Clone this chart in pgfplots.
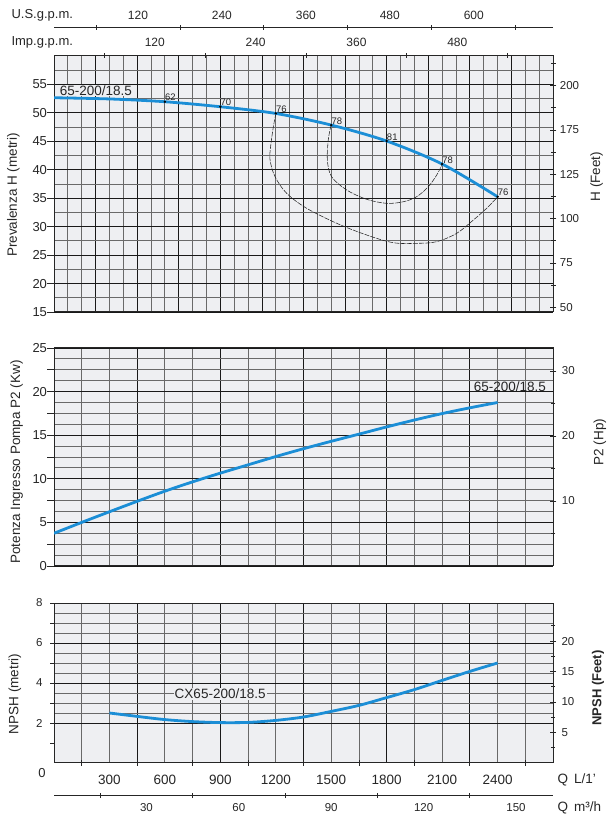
\documentclass[border=0pt]{standalone}
\usepackage{fontspec}
\setmainfont{Liberation Sans}
\usepackage{pgfplots}
\pgfplotsset{compat=1.18}
\definecolor{bg}{RGB}{238,239,242}
\definecolor{curve}{RGB}{27,142,214}
\definecolor{gridg}{RGB}{105,105,105}
\newcommand\fs[1]{\fontsize{#1}{#1}\selectfont}
\pgfplotsset{
  base/.style={scale only axis, width=499pt, xmin=0, xmax=2700,
    /pgf/number format/assume math mode=true,
    /pgf/number format/1000 sep={},
    tick label style={font=\fs{11.5}, text=black!85},
    tick align=outside,
    axis line style={line width=1pt, black!85},
    every tick/.style={black!85, line width=0.8pt}},
  grids/.style={grid=both,
    major grid style={black!90, line width=0.8pt},
    minor grid style={gridg, line width=0.8pt},
    minor tick length=0pt, xtick style={draw=none},
    ytick pos=left, xticklabels={},
    axis background/.style={fill=bg}},
  rightax/.style={axis x line=none, axis y line=right, y axis line style={-}},
}
\begin{document}
\begin{tikzpicture}
\useasboundingbox (0,0) rectangle (614pt,822pt);

% ---------------- HEAD ----------------
\begin{axis}[base, grids, at={(54pt,510pt)}, anchor=south west, height=256pt,
  ymin=15, ymax=60, xtick={0,225,...,2700}, minor x tick num=2,
  ytick={15,20,...,55}, minor ytick={17.5,22.5,...,57.5},
  major tick length=7pt,
  yticklabel style={font=\fs{13}, anchor=east, xshift=3.5pt}]
\node[fill=bg, inner sep=0.5pt, font=\fs{13.5}, text=black!85] at (axis cs:227,53.9) {65-200/18.5};
% efficiency iso-lines
\addplot[black!85, line width=0.55pt, dash pattern=on 5pt off 1.2pt, smooth, tension=0.55] coordinates {
 (1499,47.86)(1484,45.23)(1479,41.71)(1502,38.78)(1584,36.44)(1692,34.81)(1800,34.10)
 (1890,34.38)(1962,35.26)(2025,37.02)(2071,39.08)(2101,41.01)};
\addplot[black!85, line width=0.55pt, dash pattern=on 5pt off 1.2pt, smooth, tension=0.55] coordinates {
 (1201,49.92)(1187,47.57)(1172,44.05)(1169,41.71)(1196,38.78)(1259,35.86)(1367,33.23)
 (1530,30.59)(1692,28.53)(1836,27.18)(1962,27.07)(2071,27.36)(2179,28.83)(2269,31.17)
 (2341,33.23)(2401,35.26)};
% head curve
\addplot[curve, line width=2.8pt, smooth] coordinates {
 (0,52.66)(300,52.45)(600,51.96)(900,51.08)(1200,49.9)(1500,47.86)(1800,45.05)(2100,41.01)(2400,35.26)};
% efficiency points
\addplot[only marks, mark=*, mark size=1pt, black,
  nodes near coords, point meta=explicit symbolic,
  nodes near coords style={font=\fs{9.5}, anchor=south west, inner sep=0.6pt, xshift=-0.5pt, text=black!85}]
  coordinates {(600,51.96)[62] (900,51.08)[70] (1200,49.9)[76] (1500,47.86)[78]
  (1800,45.05)[81] (2100,41.01)[78] (2400,35.26)[76]};
\end{axis}
% head right axis (Feet)
\begin{axis}[base, rightax, at={(54pt,510pt)}, anchor=south west, height=256pt,
  ymin=15, ymax=60,
  ytick={15.8,23.6,31.4,39.2,47.0,54.8}, yticklabels={50,75,100,125,175,200},
  minor ytick={19.7,27.5,35.3,43.1,50.9,58.7},
  major tick length=6.7pt, minor tick length=5pt]
\end{axis}
% Imp.g.p.m. axis (top of head plot)
\begin{axis}[base, at={(54pt,510pt)}, anchor=south west, height=256pt,
  xmin=0, xmax=593.93, ymin=0, ymax=1,
  axis y line=none, axis x line=top, x axis line style={-},
  xtick={120,240,360,480}, minor xtick={60,180,300,420,540},
  major tick length=0pt, minor tick length=5pt,
  xticklabel style={anchor=center, yshift=13.3pt, font=\fs{12}}]
\end{axis}
% U.S.g.p.m. axis
\begin{axis}[base, at={(54pt,794.3pt)}, anchor=north west, height=10pt,
  xmin=0, xmax=713.27, ymin=0, ymax=1,
  axis y line=none, axis x line=top, x axis line style={-},
  xtick={120,240,360,480,600}, minor xtick={60,180,300,420,540,660},
  major tick length=0pt, minor tick length=5pt,
  xticklabel style={anchor=center, yshift=12.7pt, font=\fs{12}}]
\end{axis}

% ---------------- POWER ----------------
\begin{axis}[base, grids, at={(54pt,256pt)}, anchor=south west, height=218pt,
  ymin=0, ymax=25, xtick={0,450,...,2700}, minor x tick num=2,
  ytick={0,5,...,25}, minor y tick num=3,
  extra y ticks={2.5,7.5,12.5,17.5,22.5}, extra y tick labels={},
  extra y tick style={grid=none},
  major tick length=7pt,
  yticklabel style={font=\fs{13}, anchor=east, xshift=3.5pt}]
\addplot[curve, line width=2.8pt, smooth] coordinates {
 (0,3.75)(150,5.0)(300,6.22)(450,7.42)(600,8.58)(750,9.65)(900,10.65)(1050,11.6)
 (1200,12.55)(1350,13.45)(1500,14.3)(1650,15.12)(1800,15.95)(1950,16.74)(2100,17.48)
 (2250,18.14)(2400,18.75)};
\node[font=\fs{13.5}, text=black!85] at (axis cs:2467,20.6) {65-200/18.5};
\end{axis}
\begin{axis}[base, rightax, at={(54pt,256pt)}, anchor=south west, height=218pt,
  ymin=0, ymax=33.525, ytick={10,20,30}, minor ytick={5,15,25},
  major tick length=6.7pt, minor tick length=4pt,
  yticklabel style={xshift=2pt}]
\end{axis}

% ---------------- NPSH ----------------
\begin{axis}[base, grids, at={(54pt,59pt)}, anchor=south west, height=160pt,
  ymin=0, ymax=8, xtick={0,450,...,2700}, minor x tick num=2,
  ytick={2,4,6,8}, minor y tick num=3,
  extra y ticks={1,3,5,7}, extra y tick labels={}, extra y tick style={grid=none},
  major tick length=4pt,
  yticklabel style={font=\fs{11.5}, anchor=east, xshift=-3.9pt}]
\node[fill=bg, inner sep=1pt, font=\fs{13.5}, text=black!85] at (axis cs:899,3.47) {CX65-200/18.5};
\addplot[curve, line width=2.8pt, smooth] coordinates {
 (300,2.5)(450,2.33)(600,2.17)(750,2.07)(900,2.02)(1050,2.03)(1200,2.13)(1350,2.3)
 (1500,2.58)(1650,2.88)(1800,3.27)(1950,3.67)(2100,4.13)(2250,4.58)(2400,5.0)};
\end{axis}
\begin{axis}[base, rightax, at={(54pt,59pt)}, anchor=south west, height=160pt,
  ymin=0, ymax=26.247, ytick={5,10,15,20}, minor ytick={2.5,7.5,12.5,17.5,22.5},
  major tick length=6pt, minor tick length=4pt,
  yticklabel style={xshift=2pt}]
\end{axis}
% Q L/min axis
\begin{axis}[base, at={(54pt,59pt)}, anchor=south west, height=160pt,
  ymin=0, ymax=1, axis y line=none, axis x line=bottom, x axis line style={-},
  xtick={300,600,...,2400}, minor xtick={150,450,...,2550},
  major tick length=0pt, minor tick length=5.7pt,
  xticklabel style={anchor=center, yshift=-17pt, font=\fs{13.5}}]
\end{axis}
% Q m3/h axis
\begin{axis}[base, at={(54pt,26.3pt)}, anchor=south west, height=10pt,
  xmin=0, xmax=162, ymin=0, ymax=1, axis y line=none, axis x line=bottom, x axis line style={-},
  xtick={30,60,...,150}, minor xtick={15,45,...,135},
  major tick length=0pt, minor tick length=5pt,
  xticklabel style={anchor=center, yshift=-12.3pt, font=\fs{11.5}}]
\end{axis}

% ---------------- TEXTS ----------------
\begin{scope}[every node/.style={text=black!85}]
\node[anchor=west, font=\fs{13}] at (8pt,807pt) {U.S.g.p.m.};
\node[anchor=west, font=\fs{13}] at (8pt,779.3pt) {Imp.g.p.m.};
\node[rotate=90, font=\fs{13.5}] at (13.5pt,627pt) {Prevalenza H (metri)};
\node[rotate=90, font=\fs{13.5}] at (16.7pt,360pt) {Potenza Ingresso Pompa P2 (Kw)};
\node[rotate=90, font=\fs{13.5}] at (15pt,128pt) {NPSH (metri)};
\node[rotate=90, font=\fs{13.5}] at (596.7pt,645.3pt) {H (Feet)};
\node[rotate=90, font=\fs{13.5}] at (600pt,380pt) {P2 (Hp)};
\node[rotate=90, font=\bfseries\fs{13}] at (598pt,134pt) {NPSH (Feet)};
\node[font=\fs{13}] at (42pt,49pt) {0};
\node[anchor=west, font=\fs{13.5}] at (554pt,42pt) {Q\hspace{6pt}L/1’};
\node[anchor=west, font=\fs{13.5}] at (554pt,14pt) {Q\hspace{6pt}m³/h};
\end{scope}
\end{tikzpicture}
\end{document}
